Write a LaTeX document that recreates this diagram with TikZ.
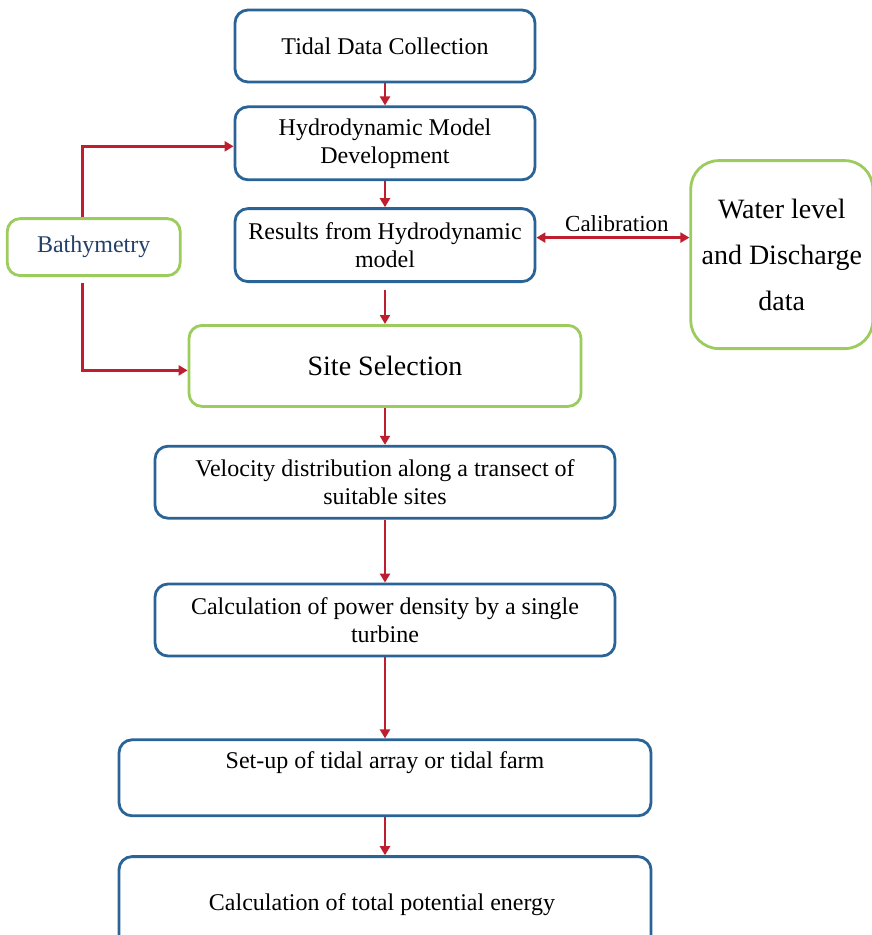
\documentclass[tikz,border=0pt]{standalone}
\usepackage{fontspec}
\setmainfont{Liberation Serif}
\usetikzlibrary{positioning,arrows.meta}

\definecolor{boxblue}{HTML}{2A6496}
\definecolor{boxgreen}{HTML}{9CCB5E}
\definecolor{arrred}{HTML}{BE1E2D}
\definecolor{bathtext}{HTML}{22406A}

\begin{document}
\begin{tikzpicture}[
    node distance = 22pt and 52pt,
    bluebox/.style  = {draw=boxblue,
                       line width=2.8pt,
                       rounded corners=13pt,
                       minimum width=300pt,
                       minimum height=72pt,
                       inner sep=2pt,
                       align=center,
                       font=\fontsize{24}{28}\selectfont},
    greenbox/.style = {draw=boxgreen,
                       line width=2.8pt,
                       rounded corners=13pt,
                       inner sep=2pt,
                       align=center,
                       font=\fontsize{24}{28}\selectfont},
    arr/.style      = {draw=arrred,
                       line width=2.8pt,
                       -{Triangle[length=9pt,width=10pt]}},
    dblarr/.style   = {draw=arrred,
                       line width=2.8pt,
                       {Triangle[length=9pt,width=10pt]}-{Triangle[length=9pt,width=10pt]}}
]
\useasboundingbox (0pt,0pt) rectangle (872pt,-935pt);

\node (tidal) [bluebox] at (385pt,-46pt) {Tidal Data Collection};

\node (hydro) [bluebox, minimum height=73pt, below=22pt of tidal] {
Hydrodynamic Model\\
Development
};

\node (results) [bluebox, minimum height=73pt, below=26pt of hydro] {
Results from Hydrodynamic\\
model
};

\node (site) [greenbox, minimum width=392pt, minimum height=81pt,
              font=\fontsize{28}{34}\selectfont, below=41pt of results] {Site Selection};

\node (velocity) [bluebox, minimum width=460pt, below=37pt of site] {
Velocity distribution along a transect of\\
suitable sites
};

\node (power) [bluebox, minimum width=460pt, below=63pt of velocity] {
Calculation of power density by a single\\
turbine
};

\node (setup) [bluebox, minimum width=532pt, minimum height=76pt, below=81pt of power] {
Set-up of tidal array or tidal farm\\
\strut
};

\node (total) [bluebox, minimum width=532pt, minimum height=96pt, below=38pt of setup] {
Calculation of total potential energy
};

\node (bathy) [greenbox, minimum width=173pt, minimum height=57pt,
               text=bathtext, font=\fontsize{24}{28}\selectfont,
               left=52pt of results, yshift=-2pt] {Bathymetry};

\node (water) [greenbox, minimum width=182pt, minimum height=188pt,
               rounded corners=28pt, font=\fontsize{28}{46}\selectfont,
               right=153pt of results, yshift=-9.5pt] {
Water level\\
and Discharge\\
data
};

\draw[arr] (tidal) -- (hydro);
\draw[arr] (hydro) -- (results);
\draw[arr] ([yshift=-7pt]results.south) -- (site);
\draw[arr] (site) -- (velocity);
\draw[arr] (velocity) -- (power);
\draw[arr] (power) -- (setup);
\draw[arr] (setup) -- (total);

\draw[arr] ([xshift=-11.5pt]bathy.north) |- ([yshift=-3pt]hydro.west);
\draw[arr] ([xshift=-11.5pt,yshift=-6pt]bathy.south) |- ([yshift=-4.5pt]site.west);

\draw[dblarr] ([yshift=7.5pt]results.east) -- ([yshift=7.5pt]results.east -| water.west)
    node (calib) [midway, above=1pt, xshift=4pt, font=\fontsize{23}{28}\selectfont] {Calibration};

\end{tikzpicture}
\end{document}
